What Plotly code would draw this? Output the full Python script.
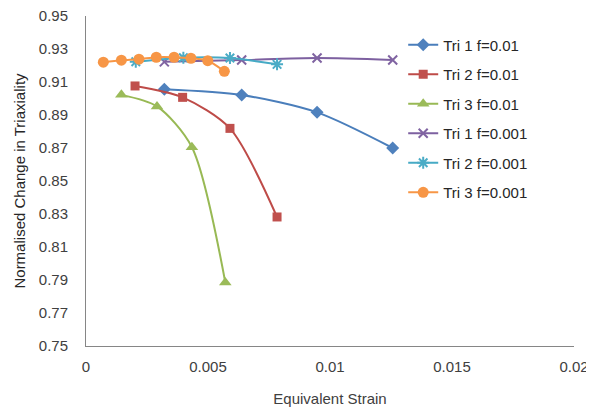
import plotly.graph_objects as go

# Data
tri1_f01_x = [0.00321, 0.00638, 0.00947, 0.01257]
tri1_f01_y = [0.9056, 0.9021, 0.8916, 0.8700]
tri2_f01_x = [0.00201, 0.00396, 0.00590, 0.00783]
tri2_f01_y = [0.9076, 0.9007, 0.8819, 0.8282]
tri3_f01_x = [0.00145, 0.00291, 0.00434, 0.00571]
tri3_f01_y = [0.9022, 0.8952, 0.8705, 0.7885]
tri1_f001_x = [0.00321, 0.00638, 0.00947, 0.01257]
tri1_f001_y = [0.9222, 0.9233, 0.9245, 0.9233]
tri2_f001_x = [0.00204, 0.00399, 0.00590, 0.00783]
tri2_f001_y = [0.9223, 0.9247, 0.9245, 0.9207]
tri3_f001_x = [0.00071, 0.00145, 0.00217, 0.00288, 0.00361, 0.00430, 0.00499, 0.00567]
tri3_f001_y = [0.9220, 0.9232, 0.9238, 0.9250, 0.9250, 0.9244, 0.9229, 0.9165]

series_names = ["Tri 1 f=0.01", "Tri 2 f=0.01", "Tri 3 f=0.01",
                "Tri 1 f=0.001", "Tri 2 f=0.001", "Tri 3 f=0.001"]
y_ticks = [0.75, 0.77, 0.79, 0.81, 0.83, 0.85, 0.87, 0.89, 0.91, 0.93, 0.95]
x_ticks = [0, 0.005, 0.01, 0.015, 0.02]
x_tick_text = ["0", "0.005", "0.01", "0.015", "0.02"]

series = [
    (tri1_f01_x, tri1_f01_y, "#4A7EBB", "#4F81BD", "diamond", 10),
    (tri2_f01_x, tri2_f01_y, "#BE4B48", "#C0504D", "square", 9),
    (tri3_f01_x, tri3_f01_y, "#98B954", "#9BBB59", "triangle-up", 11),
    (tri1_f001_x, tri1_f001_y, "#7D60A0", "#8064A2", "x-thin", 9),
    (tri2_f001_x, tri2_f001_y, "#46AAC5", "#4BACC6", "asterisk", 10),
    (tri3_f001_x, tri3_f001_y, "#F79646", "#F79646", "circle", 11),
]

fig = go.Figure()
for i, (name, (xs, ys, lc, mc, sym, sz)) in enumerate(zip(series_names, series)):
    marker = dict(symbol=sym, size=sz, color=mc)
    if sym in ("x-thin", "asterisk"):
        marker["line"] = dict(color=mc, width=2)
    fig.add_trace(go.Scatter(
        x=xs, y=ys, name=name, mode="lines+markers", legendgroup=f"g{i}",
        line=dict(color=lc, width=2, shape="spline", smoothing=0.8),
        marker=marker,
    ))

# The page places the figure 8px from the top-left corner, so the figure is
# sized to the remaining window area.
fig.update_layout(
    width=586, height=399,
    margin=dict(l=78, r=20, t=8, b=61),
    paper_bgcolor="white", plot_bgcolor="white",
    font=dict(family="Liberation Sans, Arial, sans-serif", size=15, color="#404040"),
    legend=dict(x=0.65, y=0.962, xanchor="left", yanchor="top",
                font=dict(size=15, color="#262626"),
                bgcolor="rgba(0,0,0,0)", tracegroupgap=7, itemwidth=30),
    showlegend=True,
)
fig.update_xaxes(
    range=[0, 0.02], tickvals=x_ticks, ticktext=x_tick_text,
    showgrid=False, zeroline=False, automargin=False,
    showline=True, linecolor="#868686", linewidth=1,
    ticks="outside", ticklen=7, tickcolor="rgba(0,0,0,0)",
    tickfont=dict(size=15, color="#404040"), ticklabeloverflow="allow",
    title=dict(text="Equivalent Strain", font=dict(size=15, color="#404040"), standoff=22),
)
fig.update_yaxes(
    range=[0.75, 0.95], tickvals=y_ticks,
    ticktext=[f"{v:.2f}" for v in y_ticks],
    showgrid=False, zeroline=False, automargin=False,
    showline=True, linecolor="#868686", linewidth=1,
    ticks="outside", ticklen=14, tickcolor="rgba(0,0,0,0)",
    tickfont=dict(size=15, color="#404040"), ticklabeloverflow="allow",
    title=dict(text="Normalised Change in Triaxiality", font=dict(size=15, color="#262626"), standoff=9),
)

fig.write_html("out.html")
